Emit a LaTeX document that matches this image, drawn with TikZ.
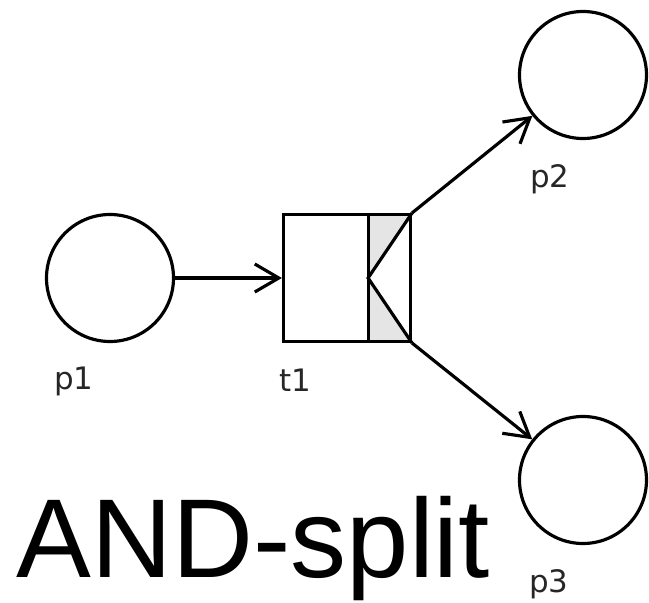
\documentclass[tikz,border=0pt]{standalone}
\usepackage{fontspec}
\setmainfont{Liberation Sans}
\newfontfamily\lblfont{DejaVu Sans}
\usetikzlibrary{arrows.meta}

\begin{document}
\begin{tikzpicture}[
    place/.style={draw, circle, line width=0.9pt, minimum size=1.27cm, inner sep=0pt},
    trans/.style={draw, rectangle, line width=0.9pt, minimum width=1.27cm, minimum height=1.27cm, inner sep=0pt},
    lbl/.style={font=\lblfont\fontsize{8.8}{10}\selectfont, text=black!85, inner sep=0pt},
    arc/.style={line width=0.9pt, -{Straight Barb[length=2.4mm,width=2.8mm,line width=0.9pt]}}
]
    \useasboundingbox (0,0) rectangle (6.49,6.03);

    % Places
    \node[place] (p1) at (1.10,3.25) {};
    \node[place] (p2) at (5.83,5.28) {};
    \node[place] (p3) at (5.83,1.23) {};

    % Transition t1 (AND-split)
    \node[trans] (t1) at (3.47,3.25) {};
    \coordinate (split) at ([xshift=-0.44cm]t1.east);
    \fill[gray!20] (t1.north east) rectangle ([xshift=-0.44cm]t1.south east);
    \fill[white] (t1.north east) -- (split) -- (t1.south east) -- cycle;
    \draw[line width=0.9pt] ([xshift=-0.44cm]t1.north east) -- ([xshift=-0.44cm]t1.south east);
    \draw[line width=0.9pt] (t1.north east) -- (split) -- (t1.south east);
    \node[trans] at (t1) {};

    % Labels
    \node[lbl] (p1lbl) at ([xshift=-0.36cm,yshift=-1.03cm]p1) {p1};
    \node[lbl] (t1lbl) at ([xshift=-0.52cm,yshift=-1.02cm]t1) {t1};
    \node[lbl] (p2lbl) at ([xshift=-0.33cm,yshift=-1.04cm]p2) {p2};
    \node[lbl] (p3lbl) at ([xshift=-0.34cm,yshift=-1.04cm]p3) {p3};

    % Arcs
    \draw[arc] (p1) -- (t1);
    \draw[arc] (t1.north east) -- (p2);
    \draw[arc] (t1.south east) -- (p3);

    % Title
    \node[anchor=base west, inner sep=0pt, font=\fontsize{31.9}{36}\selectfont] (title) at (0.16,0.25) {AND-split};
\end{tikzpicture}
\end{document}
